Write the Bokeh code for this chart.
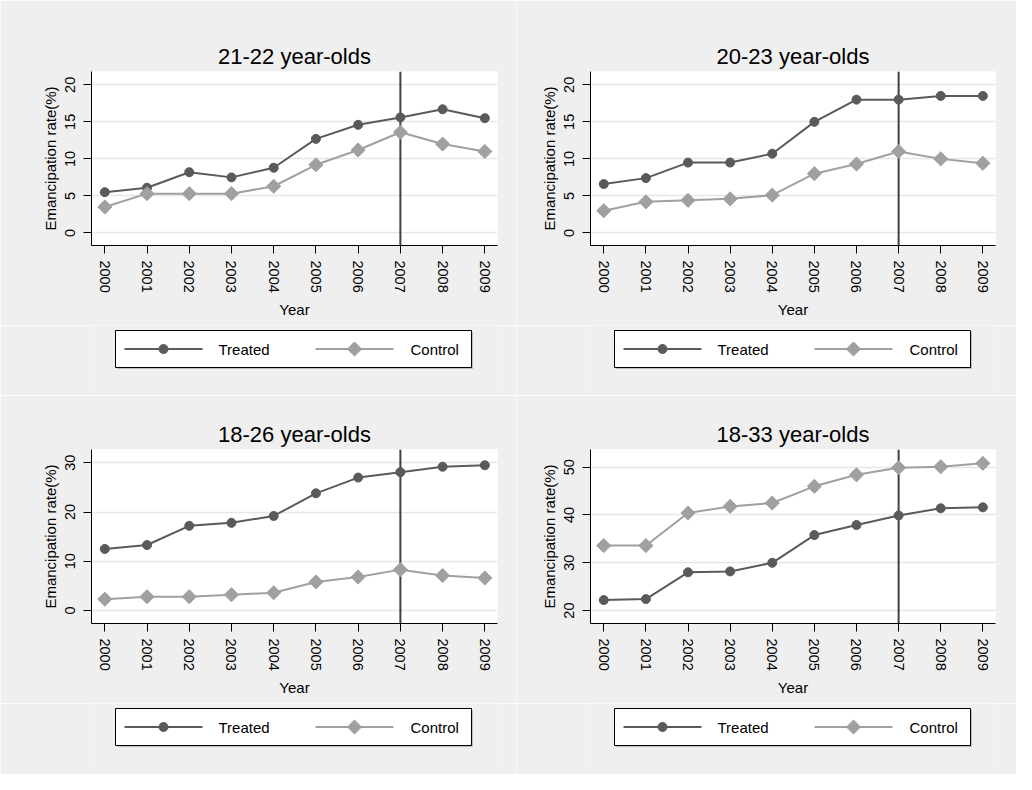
import math
from bokeh.plotting import figure
from bokeh.layouts import gridplot
from bokeh.models import FixedTicker, Span, Range1d
from bokeh.core.properties import value
from bokeh.embed import file_html
from bokeh.resources import INLINE

years = [2000, 2001, 2002, 2003, 2004, 2005, 2006, 2007, 2008, 2009]

titles = ["21-22 year-olds", "20-23 year-olds", "18-26 year-olds", "18-33 year-olds"]

treated_21_22 = [5.5, 6.1, 8.2, 7.5, 8.8, 12.7, 14.6, 15.6, 16.7, 15.5]
control_21_22 = [3.5, 5.3, 5.3, 5.3, 6.3, 9.2, 11.2, 13.6, 12.0, 11.0]

treated_20_23 = [6.6, 7.4, 9.5, 9.5, 10.7, 15.0, 18.0, 18.0, 18.5, 18.5]
control_20_23 = [3.0, 4.2, 4.4, 4.6, 5.1, 8.0, 9.3, 11.0, 10.0, 9.4]

treated_18_26 = [12.5, 13.3, 17.2, 17.8, 19.2, 23.8, 27.0, 28.1, 29.2, 29.5]
control_18_26 = [2.3, 2.8, 2.8, 3.2, 3.6, 5.8, 6.8, 8.3, 7.1, 6.6]

treated_18_33 = [22.2, 22.4, 28.0, 28.2, 30.0, 35.8, 37.9, 39.9, 41.4, 41.6]
control_18_33 = [33.6, 33.6, 40.4, 41.8, 42.5, 46.0, 48.4, 49.9, 50.1, 50.8]

yticks_a = [0, 5, 10, 15, 20]
yticks_b = [0, 10, 20, 30]
yticks_c = [20, 30, 40, 50]

series_labels = ["Treated", "Control"]
policy_year = 2007

BG = "#efefef"
DARK = "#5a5a5a"
LIGHT = "#a0a0a0"
FONT = "Liberation Sans"


def panel(title, treated, control, yticks, yr, w, h, mbl, mbr, mbt, mbb):
    p = figure(width=w, height=h, output_backend="svg", toolbar_location=None,
               x_range=Range1d(1999.685, 2009.3), y_range=Range1d(*yr),
               min_border_left=mbl, min_border_right=mbr,
               min_border_top=mbt, min_border_bottom=mbb)
    p.border_fill_color = BG
    p.background_fill_color = "white"
    p.outline_line_color = None

    p.title.text = title
    p.title.align = "center"
    p.title.text_font = FONT
    p.title.text_font_size = "22px"
    p.title.text_font_style = "normal"
    p.title.text_color = "black"
    p.title.standoff = 6

    p.xgrid.visible = False
    p.ygrid.grid_line_color = "#e6e6e6"
    p.ygrid.grid_line_width = 1.5

    for ax in (p.xaxis[0], p.yaxis[0]):
        ax.axis_line_color = "black"
        ax.axis_line_width = 1
        ax.major_tick_line_color = "black"
        ax.major_tick_out = 8
        ax.major_tick_in = 0
        ax.minor_tick_line_color = None
        ax.major_label_text_font = FONT
        ax.major_label_text_font_size = "14.5px"
        ax.major_label_text_color = "black"
        ax.major_label_orientation = "vertical"
        ax.axis_label_text_font = FONT
        ax.axis_label_text_font_size = "15px"
        ax.axis_label_text_font_style = "normal"
        ax.axis_label_text_color = "black"

    p.xaxis.ticker = FixedTicker(ticks=years)
    p.xaxis.axis_label = "Year"
    p.xaxis.major_label_standoff = 7
    p.xaxis.axis_label_standoff = 5
    p.yaxis.ticker = FixedTicker(ticks=yticks)
    p.yaxis.axis_label = "Emancipation rate(%)"
    p.yaxis.major_label_standoff = 8
    p.yaxis.axis_label_standoff = 4

    vline = Span(location=policy_year, dimension="height", line_color="#404040",
                 line_width=2, level="underlay")
    p.add_layout(vline)

    p.line(years, treated, line_color=DARK, line_width=2)
    p.scatter(years, treated, marker="circle", size=9, fill_color=DARK, line_color=DARK)
    p.line(years, control, line_color=LIGHT, line_width=2)
    p.scatter(years, control, marker="square", angle=math.pi / 4, size=10,
              fill_color=LIGHT, line_color=LIGHT)
    return p


def legend_box(w, h, mbl, mbr, frame_w):
    # key strip below a panel, laid out in pixel units of its own frame
    q = figure(width=w, height=h, output_backend="svg", toolbar_location=None,
               title=None, x_axis_location=None, y_axis_location=None,
               x_range=Range1d(0, frame_w), y_range=Range1d(0, h),
               min_border_left=mbl, min_border_right=mbr, min_border_top=0, min_border_bottom=0)
    q.border_fill_color = BG
    q.background_fill_color = BG
    q.outline_line_color = None
    q.grid.visible = False

    top = h - 5
    bottom = top - 37
    mid = (top + bottom) / 2
    left, right = 24, 380
    q.quad(left=[left + 1.5], right=[right + 1.5], top=[top - 1.5], bottom=[bottom - 1.5],
           fill_color="#bdbdbd", line_color=None)
    q.quad(left=[left], right=[right], top=[top], bottom=[bottom],
           fill_color="white", line_color="black", line_width=1)

    key_x0 = [left + 9, left + 200]
    key_x1 = [left + 87, left + 278]
    colors = [DARK, LIGHT]
    q.segment(x0=key_x0, y0=[mid, mid], x1=key_x1, y1=[mid, mid], line_color=colors, line_width=2)
    q.scatter(x=[(key_x0[0] + key_x1[0]) / 2], y=[mid], marker="circle", size=9,
              fill_color=DARK, line_color=DARK)
    q.scatter(x=[(key_x0[1] + key_x1[1]) / 2], y=[mid], marker="square", angle=math.pi / 4,
              size=10, fill_color=LIGHT, line_color=LIGHT)
    q.text(x=[key_x1[0] + 16, key_x1[1] + 17], y=[mid, mid], text=series_labels,
           text_font=value(FONT), text_font_size="15px", text_color="black",
           text_baseline="middle", text_align="left")
    return q


p1 = panel(titles[0], treated_21_22, control_21_22, yticks_a, (-1.7, 21.8), 516, 325, 91, 19, 71, 80)
p2 = panel(titles[1], treated_20_23, control_20_23, yticks_a, (-1.7, 21.8), 500, 325, 74, 21, 71, 80)
l1 = legend_box(516, 70, 91, 19, 406)
l2 = legend_box(500, 70, 74, 21, 405)
p3 = panel(titles[2], treated_18_26, control_18_26, yticks_b, (-2.64, 32.7), 516, 308, 91, 19, 54, 80)
p4 = panel(titles[3], treated_18_33, control_18_33, yticks_c, (17.3, 53.7), 500, 308, 74, 21, 54, 80)
l3 = legend_box(516, 71, 91, 19, 406)
l4 = legend_box(500, 71, 74, 21, 405)

grid = gridplot([[p1, p2], [l1, l2], [p3, p4], [l3, l4]], toolbar_location=None)

open("out.html", "w").write(file_html(grid, INLINE))
